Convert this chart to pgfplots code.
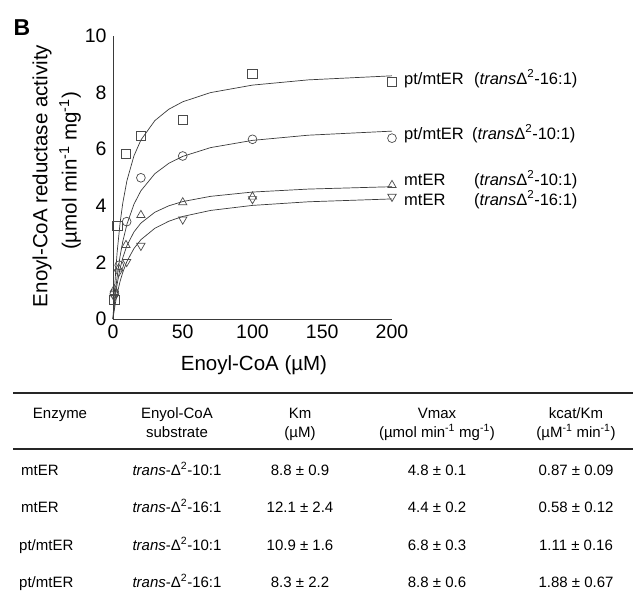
\documentclass[border=0pt]{standalone}
\usepackage{fontspec}
\setmainfont{Liberation Sans}
\usepackage{pgfplots}
\pgfplotsset{compat=1.18}

\definecolor{curve}{HTML}{3A3A3A}
\definecolor{mk}{HTML}{4A4A4A}

\newcommand{\ticksz}{\fontsize{19.5}{22}\selectfont}
\newcommand{\labsz}{\fontsize{20.5}{24}\selectfont}
\newcommand{\legsz}{\fontsize{16.5}{19}\selectfont}
\newcommand{\tabsz}{\fontsize{15}{17}\selectfont}
\newcommand{\substr}[1]{\textit{trans}-Δ\textsuperscript{2}-#1}

\begin{document}
\begin{tikzpicture}
\useasboundingbox (0pt,0pt) rectangle (633pt,-592pt);

\begin{axis}[
  at={(113pt,-319pt)}, anchor=south west,
  scale only axis, width=279pt, height=283pt,
  xmin=0, xmax=200, ymin=0, ymax=10,
  axis lines=left, axis line style={-, curve, line width=0.8pt},
  xtick={0,50,...,200}, ytick={0,2,...,10},
  major tick length=0pt,
  tick label style={font=\ticksz},
  /pgf/number format/assume math mode=true,
  yticklabel style={xshift=-3pt},
  xticklabel style={yshift=-2pt},
  clip=false,
  every axis plot/.append style={line width=0.7pt},
]
% fitted Michaelis-Menten curves
\addplot[curve, no marks] coordinates {(0,0) (0.5,0.509) (1,0.962) (2,1.738) (3,2.376) (5,3.364) (7,4.095) (10,4.891) (15,5.762) (20,6.325) (30,7.011) (40,7.412) (50,7.676) (70,8.001) (100,8.265) (140,8.450) (200,8.593)};
\addplot[curve, no marks] coordinates {(0,0) (0.5,0.307) (1,0.588) (2,1.085) (3,1.511) (5,2.201) (7,2.737) (10,3.350) (15,4.054) (20,4.531) (30,5.135) (40,5.501) (50,5.747) (70,6.057) (100,6.312) (140,6.495) (200,6.639)};
\addplot[curve, no marks] coordinates {(0,0) (0.5,0.262) (1,0.498) (2,0.904) (3,1.240) (5,1.768) (7,2.162) (10,2.596) (15,3.075) (20,3.389) (30,3.773) (40,4.000) (50,4.150) (70,4.335) (100,4.486) (140,4.591) (200,4.675)};
\addplot[curve, no marks] coordinates {(0,0) (0.5,0.179) (1,0.344) (2,0.638) (3,0.894) (5,1.316) (7,1.650) (10,2.036) (15,2.490) (20,2.803) (30,3.206) (40,3.455) (50,3.624) (70,3.837) (100,4.014) (140,4.142) (200,4.243)};
% measured points
\addplot[only marks, mark=square, mark size=4.7pt, mark options={draw=mk, fill=white, line width=0.7pt}] coordinates {(1,0.68) (3,3.3) (9.3,5.83) (20,6.47) (50,7.03) (100,8.66) (200,8.37)};
\addplot[only marks, mark=o, mark size=4.4pt, mark options={draw=mk, fill=white, line width=0.7pt}] coordinates {(1,0.9) (4.5,1.9) (9.8,3.44) (20,4.99) (50,5.76) (100,6.35) (200,6.39)};
\addplot[only marks, mark=triangle, mark size=4.8pt, mark options={draw=mk, fill=white, line width=0.7pt}] coordinates {(1,1.05) (4,1.78) (9.3,2.61) (20,3.67) (50,4.12) (100,4.32) (200,4.73)};
\addplot[only marks, mark=triangle, mark size=4.8pt, mark options={draw=mk, fill=white, line width=0.7pt, rotate=180}] coordinates {(1,0.78) (4,1.66) (9.8,2.02) (20,2.59) (50,3.52) (100,4.24) (200,4.32)};
\end{axis}

% panel letter and axis titles
\node[font=\fontsize{23}{26}\selectfont\bfseries] at (22pt,-28pt) {B};
\node[rotate=90, font=\labsz] at (42pt,-176pt) {Enoyl-CoA reductase activity};
\node[rotate=90, font=\labsz] at (70pt,-171pt) {(µmol min\textsuperscript{-1} mg\textsuperscript{-1})};
\node[font=\labsz] at (254pt,-365pt) {Enoyl-CoA (µM)};

% curve labels
\begin{scope}[every node/.style={anchor=base west, font=\legsz, inner sep=0pt}]
\node at (404pt,-84pt) {pt/mtER};
\node at (474pt,-84pt) {(\textit{trans}Δ\textsuperscript{2}-16:1)};
\node at (404pt,-139pt) {pt/mtER};
\node at (472pt,-139pt) {(\textit{trans}Δ\textsuperscript{2}-10:1)};
\node at (404pt,-185pt) {mtER};
\node at (474pt,-185pt) {(\textit{trans}Δ\textsuperscript{2}-10:1)};
\node at (404pt,-205pt) {mtER};
\node at (474pt,-205pt) {(\textit{trans}Δ\textsuperscript{2}-16:1)};
\end{scope}

% kinetic parameter table
\draw[line width=2.6pt, black!85] (13pt,-393pt) -- (633pt,-393pt);
\draw[line width=2.2pt, black!85] (13pt,-449pt) -- (633pt,-449pt);
\begin{scope}[every node/.style={font=\tabsz, inner sep=0pt, anchor=base}]
\node at (60pt,-418pt) {Enzyme};
\node at (177pt,-418pt) {Enyol-CoA};
\node at (177pt,-437pt) {substrate};
\node at (300pt,-418pt) {Km};
\node at (300pt,-437pt) {(µM)};
\node at (437pt,-418pt) {Vmax};
\node at (437pt,-437pt) {(µmol min\textsuperscript{-1} mg\textsuperscript{-1})};
\node at (576pt,-418pt) {kcat/Km};
\node at (576pt,-437pt) {(µM\textsuperscript{-1} min\textsuperscript{-1})};

\node[anchor=base west] at (21pt,-475pt) {mtER};
\node at (177pt,-475pt) {\substr{10:1}};
\node at (300pt,-475pt) {8.8 ± 0.9};
\node at (437pt,-475pt) {4.8 ± 0.1};
\node at (576pt,-475pt) {0.87 ± 0.09};

\node[anchor=base west] at (21pt,-512pt) {mtER};
\node at (177pt,-512pt) {\substr{16:1}};
\node at (300pt,-512pt) {12.1 ± 2.4};
\node at (437pt,-512pt) {4.4 ± 0.2};
\node at (576pt,-512pt) {0.58 ± 0.12};

\node[anchor=base west] at (19pt,-550pt) {pt/mtER};
\node at (177pt,-550pt) {\substr{10:1}};
\node at (300pt,-550pt) {10.9 ± 1.6};
\node at (437pt,-550pt) {6.8 ± 0.3};
\node at (576pt,-550pt) {1.11 ± 0.16};

\node[anchor=base west] at (19pt,-587pt) {pt/mtER};
\node at (177pt,-587pt) {\substr{16:1}};
\node at (300pt,-587pt) {8.3 ± 2.2};
\node at (437pt,-587pt) {8.8 ± 0.6};
\node at (576pt,-587pt) {1.88 ± 0.67};
\end{scope}
\end{tikzpicture}
\end{document}
